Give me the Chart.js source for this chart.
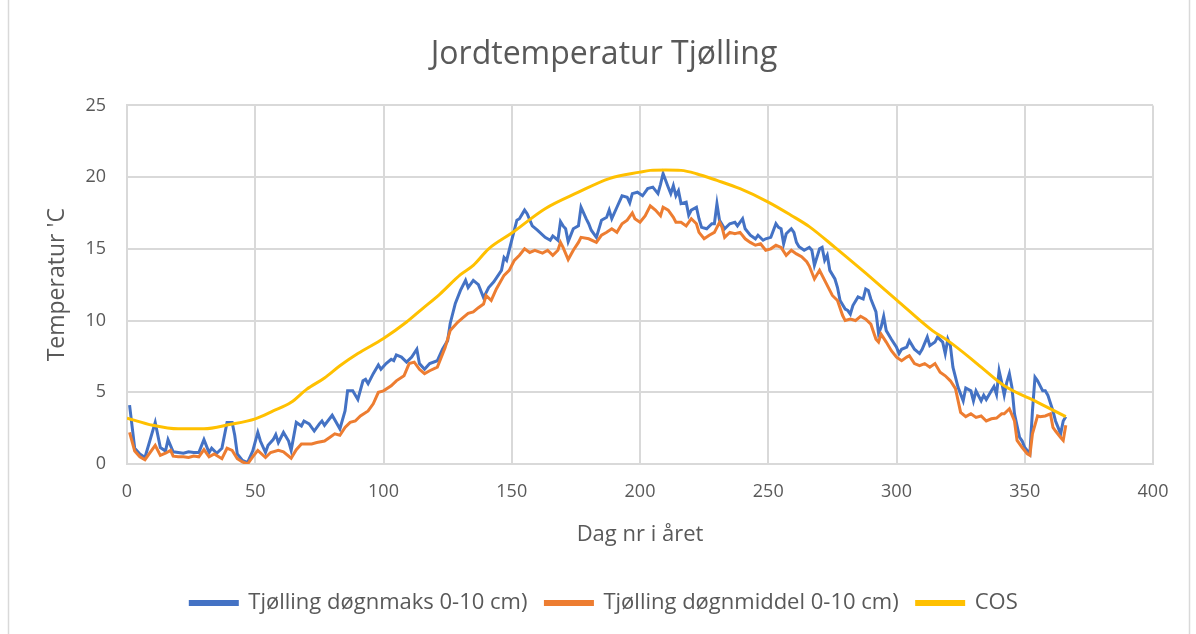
<!DOCTYPE html>
<html>
<head>
<meta charset="utf-8">
<script src="https://cdn.jsdelivr.net/npm/chart.js@4"></script>
<style>
  html, body { margin: 0; padding: 0; background: #ffffff; }
  #wrap { width: 1196px; height: 634px; position: relative; }
</style>
</head>
<body>
<div id="wrap"><canvas id="c" width="1196" height="634"></canvas></div>
<script>
const chartTitle = "Jordtemperatur Tjølling";
const xTitle = "Dag nr i året";
const yTitle = "Temperatur 'C";
const seriesNames = ["Tjølling døgnmaks 0-10 cm)", "Tjølling døgnmiddel 0-10 cm)", "COS"];
const xTicks = [0, 50, 100, 150, 200, 250, 300, 350, 400];
const yTicks = [0, 5, 10, 15, 20, 25];

const maxDays = [1,3,5,7,11,13,15,16,18,20,22,24,26,28,30,32,33,35,37,39,41,42,43,45,47,49,51,52,54,55,57,58,59,61,63,64,66,68,69,71,73,75,76,77,80,83,85,86,88,90,92,93,94,96,98,99,101,103,104,105,107,109,111,113,114,116,118,121,123,125,126,128,130,132,133,135,137,139,141,143,146,147,148,150,152,153,155,156,158,160,163,165,166,168,169,170,171,172,174,176,177,179,180,181,183,185,187,188,189,191,193,195,196,197,199,201,203,205,207,208,209,211,212,213,214,215,216,218,219,220,222,223,224,226,228,229,230,231,233,235,237,238,240,241,243,245,246,248,249,251,253,254,255,256,257,259,260,261,262,264,266,267,268,270,271,272,273,274,276,277,278,280,281,282,283,285,287,288,289,290,292,293,294,295,296,298,300,301,302,304,305,307,309,310,312,313,315,316,318,319,320,321,322,324,326,327,329,330,331,333,334,335,337,338,339,340,341,342,343,344,345,346,348,349,350,352,353,354,355,357,358,359,361,362,363,364,365,366];
const maxTemps = [4.1,1.1,0.7,0.45,2.9,1.15,0.9,1.7,0.85,0.8,0.75,0.85,0.8,0.8,1.7,0.8,1.1,0.75,1.1,2.9,2.9,2.0,0.7,0.25,0.1,0.9,2.2,1.6,0.8,1.3,1.7,2.05,1.5,2.2,1.6,0.95,2.9,2.65,3.0,2.8,2.3,2.8,3.0,2.7,3.4,2.45,3.7,5.1,5.1,4.5,5.8,5.9,5.6,6.3,6.9,6.6,7.0,7.3,7.2,7.6,7.45,7.1,7.45,8.0,7.0,6.6,7.0,7.2,8.0,8.6,9.8,11.2,12.1,12.8,12.3,12.8,12.5,11.6,12.3,12.7,13.5,14.4,14.2,15.6,17.0,17.1,17.7,17.45,16.6,16.3,15.8,15.6,15.9,15.6,16.9,16.6,16.4,15.5,16.4,16.6,17.9,17.1,16.75,16.3,15.8,17.0,17.2,17.7,17.1,17.9,18.7,18.6,18.2,18.85,18.95,18.7,19.2,19.3,18.85,19.5,20.25,19.3,18.85,19.4,18.7,19.05,18.15,18.25,17.35,17.7,17.9,17.1,16.5,16.4,16.75,16.75,18.15,17.0,16.4,16.75,16.85,16.6,17.1,16.4,15.95,15.7,15.95,15.6,15.7,15.8,16.75,16.5,16.4,15.35,16.05,16.4,16.15,15.45,15.15,14.9,15.1,14.9,13.85,15.0,15.1,14.2,14.55,13.5,12.9,12.3,11.4,10.8,10.7,10.45,11.05,11.65,11.5,12.2,12.1,11.5,10.6,9.1,9.55,10.3,9.3,8.7,8.15,7.7,8.0,8.15,8.6,8.0,7.7,8.0,8.85,8.25,8.5,8.85,8.5,7.7,8.7,8.25,6.75,5.35,4.4,5.3,5.1,4.4,5.1,4.4,4.8,4.5,5.1,5.4,4.85,6.5,5.7,4.8,5.7,6.3,5.35,3.5,1.85,1.6,1.15,0.7,3.7,6.05,5.8,5.1,5.1,4.8,3.7,3.0,2.55,2.1,3.0,3.3];

const meanDays = [1,3,5,7,11,13,15,17,18,20,22,24,26,28,30,32,34,37,39,41,43,45,47,49,51,54,56,59,61,64,66,68,72,74,77,79,81,83,85,87,89,91,94,96,98,100,103,105,108,110,112,114,116,118,121,124,126,129,131,133,135,137,139,140,142,144,147,149,151,153,155,157,159,162,164,166,168,169,170,172,174,176,177,180,183,185,187,189,191,193,195,197,198,200,202,204,206,208,209,211,213,214,216,218,220,222,223,225,227,229,231,232,233,235,237,239,241,243,245,247,249,251,253,255,257,259,261,263,265,266,268,270,272,273,275,277,279,280,282,284,286,288,290,292,293,294,296,298,300,302,304,305,307,309,311,313,315,317,319,321,323,325,327,329,331,333,335,337,339,341,342,344,346,347,349,351,352,353,355,356,358,360,361,362,364,365,366];
const meanTemps = [2.2,0.9,0.5,0.3,1.3,0.6,0.75,0.95,0.55,0.5,0.5,0.45,0.55,0.5,1.0,0.5,0.7,0.37,1.1,0.95,0.37,0.14,0.0,0.5,0.95,0.45,0.8,0.95,0.85,0.4,1.0,1.4,1.4,1.5,1.6,1.85,2.1,2.0,2.55,2.9,3.0,3.35,3.7,4.2,5.0,5.1,5.45,5.8,6.15,7.0,7.1,6.6,6.3,6.5,6.75,8.1,9.3,9.9,10.2,10.5,10.6,10.9,11.15,11.75,11.4,12.2,13.15,13.5,14.2,14.55,15.0,14.75,14.9,14.7,14.9,14.55,14.9,15.45,15.1,14.25,14.9,15.45,15.8,15.7,15.45,15.95,16.15,16.4,16.15,16.75,17.0,17.5,17.1,16.86,17.3,18.0,17.7,17.3,17.9,17.7,17.2,16.85,16.85,16.6,17.1,16.75,16.15,15.7,15.95,16.15,16.85,16.5,15.8,16.15,16.05,16.15,15.7,15.45,15.25,15.35,14.9,15.0,15.25,15.1,14.55,14.9,14.65,14.45,14.1,13.8,12.9,13.5,12.8,12.45,11.75,11.4,10.35,10.0,10.1,10.0,10.3,10.1,9.75,8.7,8.5,9.05,8.5,7.9,7.45,7.2,7.45,7.55,7.0,6.85,7.0,6.75,7.0,6.4,6.15,5.8,5.25,3.6,3.3,3.5,3.25,3.35,3.0,3.15,3.2,3.5,3.5,3.85,3.0,1.65,1.15,0.7,0.6,2.1,3.35,3.3,3.35,3.5,2.55,2.3,1.85,1.65,2.7];

const cosDays = [0,10,20,30,40,50,57,64,70,77,83,90,100,109,115,122,130,135,141,150,163,176,188,200,204,210,216,222,230,239,250,259,266,276,288,300,314,320,329,333,342,355,366];
const cosTemps = [3.2,2.7,2.45,2.45,2.75,3.15,3.7,4.3,5.2,6.0,6.85,7.7,8.75,9.9,10.8,11.85,13.2,13.85,15.0,16.1,17.8,18.95,19.9,20.35,20.47,20.5,20.47,20.24,19.77,19.19,18.26,17.33,16.55,15.1,13.3,11.45,9.3,8.6,7.35,6.75,5.45,4.3,3.3];

const colors = ["#4472C4", "#ED7D31", "#FFC000"];
const textColor = "#595959";
const gridColor = "#d9d9d9";
const FONT = "'Open Sans', 'Noto Sans', sans-serif";

function pts(days, vals) { return days.map((d, i) => ({ x: d, y: vals[i] })); }

const frame = {
  id: 'frame',
  beforeDraw(chart) {
    const ctx = chart.ctx;
    ctx.save();
    ctx.fillStyle = '#ffffff';
    ctx.fillRect(0, 0, chart.width, chart.height);
    ctx.strokeStyle = '#d9d9d9';
    ctx.lineWidth = 1.5;
    ctx.beginPath();
    ctx.moveTo(8.5, 0); ctx.lineTo(8.5, chart.height);
    ctx.moveTo(1189.5, 0); ctx.lineTo(1189.5, chart.height);
    ctx.stroke();
    ctx.restore();
  }
};

const ds = [
  { label: seriesNames[0], data: pts(maxDays, maxTemps), borderColor: colors[0], backgroundColor: colors[0], order: 3 },
  { label: seriesNames[1], data: pts(meanDays, meanTemps), borderColor: colors[1], backgroundColor: colors[1], order: 2 },
  { label: seriesNames[2], data: pts(cosDays, cosTemps), borderColor: colors[2], backgroundColor: colors[2], order: 1, cubicInterpolationMode: 'monotone' }
].map(d => Object.assign({ borderWidth: 3, pointRadius: 0, tension: 0, fill: false }, d));

new Chart(document.getElementById('c'), {
  type: 'line',
  data: { datasets: ds },
  plugins: [frame],
  options: {
    responsive: false,
    animation: false,
    events: [],
    layout: { padding: { left: 55, right: 43, top: 0, bottom: 10 } },
    plugins: {
      tooltip: { enabled: false },
      title: {
        display: true,
        text: chartTitle,
        color: textColor,
        font: { family: FONT, size: 32, weight: 'normal' },
        padding: { top: 36, bottom: 31 }
      },
      legend: {
        position: 'bottom',
        labels: {
          color: textColor,
          font: { family: FONT, size: 22 },
          boxWidth: 47,
          boxHeight: 3,
          padding: 18,
          sort: (a, b) => a.datasetIndex - b.datasetIndex
        }
      }
    },
    scales: {
      x: {
        type: 'linear',
        min: 0, max: 400,
        afterBuildTicks: (s) => { s.ticks = xTicks.map(v => ({ value: v })); },
        afterFit: (s) => { s.height = 110; },
        ticks: { color: textColor, font: { family: FONT, size: 18 }, padding: 17, maxRotation: 0 },
        grid: { color: gridColor, lineWidth: 2, drawTicks: false },
        border: { color: gridColor, width: 2 },
        title: { display: true, text: xTitle, color: textColor, font: { family: FONT, size: 22 }, padding: { top: 0, bottom: 26 } }
      },
      y: {
        type: 'linear',
        min: 0, max: 25,
        afterBuildTicks: (s) => { s.ticks = yTicks.map(v => ({ value: v })); },
        afterFit: (s) => { s.width = 72; },
        ticks: { color: textColor, font: { family: FONT, size: 18 }, padding: 21 },
        grid: { color: gridColor, lineWidth: 2, drawTicks: false },
        border: { color: gridColor, width: 2 },
        title: { display: true, text: yTitle, color: textColor, font: { family: FONT, size: 23 }, padding: { top: -11, bottom: 0 } }
      }
    }
  }
});
</script>
</body>
</html>
